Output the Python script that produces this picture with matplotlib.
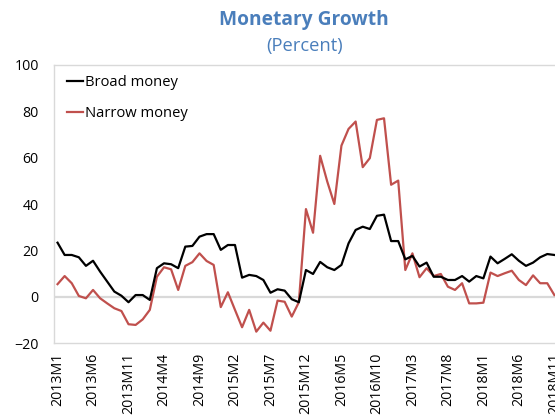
import matplotlib.pyplot as plt

plt.rcParams['font.family'] = ['Open Sans', 'DejaVu Sans']

# monthly categories 2013M1 .. 2018M11
months = [f"{y}M{m}" for y in range(2013, 2019) for m in range(1, 13)][:71]

broad_money = [
    23.3, 18.0, 18.0, 17.0, 13.3, 15.5, 10.8, 6.5, 2.2, 0.4,
    -2.4, 0.7, 0.7, -1.4, 12.3, 14.4, 14.0, 12.3, 21.6, 21.9,
    25.9, 27.0, 27.0, 20.2, 22.3, 22.3, 8.2, 9.4, 8.9, 7.2,
    1.7, 3.2, 2.6, -1.1, -2.4, 11.5, 9.8, 15.0, 12.7, 11.5,
    13.7, 23.0, 28.8, 30.2, 29.2, 34.9, 35.4, 24.0, 24.0, 16.1,
    17.6, 13.0, 14.7, 8.6, 8.6, 7.2, 7.2, 8.9, 6.5, 8.9,
    7.9, 17.3, 14.4, 16.3, 18.3, 15.5, 13.3, 14.7, 17.0, 18.4,
    18.0,
]
narrow_money = [
    5.4, 8.9, 5.8, 0.3, -0.7, 2.9, -0.7, -2.9, -5.0, -6.2,
    -11.9, -12.2, -9.8, -5.7, 8.6, 12.7, 11.8, 2.9, 13.3, 14.9,
    18.7, 15.4, 13.7, -4.5, 1.9, -5.7, -13.2, -5.7, -15.1, -11.2,
    -14.7, -1.7, -2.2, -8.6, -2.4, 37.8, 27.6, 60.8, 49.7, 40.0,
    65.2, 72.4, 75.6, 55.9, 59.8, 76.3, 77.0, 48.3, 50.1, 11.5,
    18.7, 8.4, 12.3, 8.9, 9.8, 4.3, 2.9, 5.8, -2.9, -2.9,
    -2.6, 10.4, 8.9, 10.1, 11.2, 7.2, 5.0, 9.2, 5.8, 5.8,
    0.7,
]

fig = plt.figure(figsize=(5.55, 4.15), dpi=100)
# plot area runs past the right edge, like the cropped original
ax = fig.add_axes([54 / 555, 72 / 415, 511 / 555, 278 / 415])

x = range(len(months))
ax.axhline(0, color='#D9D9D9', lw=1.6, zorder=1)
ax.plot(x, broad_money, color='black', lw=1.6, label='Broad money', zorder=3)
ax.plot(x, narrow_money, color='#C0504D', lw=1.6, label='Narrow money', zorder=2)

ax.set_xlim(-0.5, 71.5)
ax.set_ylim(-20, 100)
ax.set_yticks(range(-20, 101, 20))
ax.set_xticks(list(x)[::5])
ax.set_xticklabels(months[::5], rotation=90, fontsize=10.2)
ax.tick_params(axis='y', length=0, labelsize=10.2, colors='black', pad=11)
ax.tick_params(axis='x', length=0, colors='black', pad=7)

for s in ax.spines.values():
    s.set_color('#D9D9D9')
    s.set_linewidth(1)

ax.legend(loc='upper left', bbox_to_anchor=(0.0, 1.01), frameon=False,
          fontsize=10.6, handlelength=1.1, handletextpad=0.1, labelspacing=1.05)

fig.text(0.548, 0.953, 'Monetary Growth', ha='center', va='center',
         fontsize=13.8, fontweight='bold', color='#4A7EBB')
fig.text(0.548, 0.89, '(Percent)', ha='center', va='center',
         fontsize=13.2, color='#4A7EBB')

fig.savefig('out.png', dpi=100)
